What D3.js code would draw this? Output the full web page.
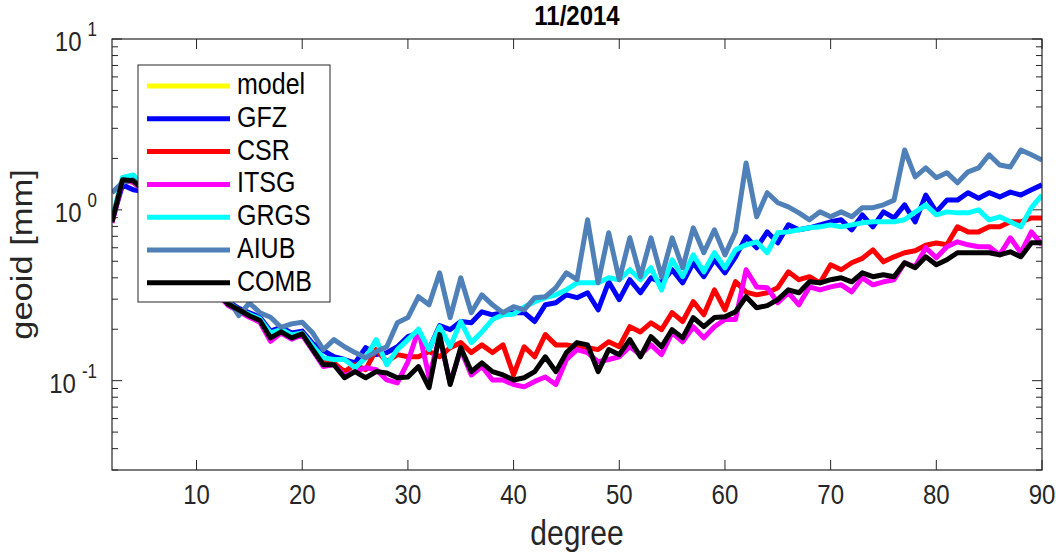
<!DOCTYPE html>
<html><head><meta charset="utf-8">
<script src="https://cdn.jsdelivr.net/npm/d3@7"></script>
<style>
body{margin:0;background:#fff}
text{font-family:"Liberation Sans",Arial,Helvetica,sans-serif;fill:#262626}
</style>
</head><body>
<svg id="c" width="1056" height="556"></svg>
<script>
// ---------- data ----------
const degrees = d3.range(2, 91); // spherical harmonic degree 2..90
const seriesNames = ["model","GFZ","CSR","ITSG","GRGS","AIUB","COMB"];
const seriesColors = ["#ffff00","#0000ff","#ff0000","#ff00ff","#00ffff","#4f80b8","#000000"];
const model = [];
const GFZ = [0.86,1.40,1.31,1.28,1.12,0.94,0.78,0.65,0.54,0.44,
  0.35,0.29,0.265,0.25,0.235,0.195,0.205,0.19,0.195,0.165,
  0.15,0.138,0.133,0.127,0.156,0.142,0.146,0.158,0.181,0.19,
  0.152,0.21,0.199,0.222,0.218,0.253,0.243,0.25,0.25,0.25,
  0.222,0.278,0.286,0.318,0.306,0.327,0.26,0.379,0.298,0.39,
  0.327,0.40,0.374,0.446,0.374,0.49,0.406,0.51,0.428,0.531,
  0.695,0.60,0.743,0.641,0.817,0.764,0.785,0.817,0.851,0.874,
  0.764,0.935,0.795,0.973,0.897,1.07,0.851,1.22,0.973,1.14,
  1.14,1.26,1.17,1.26,1.19,1.27,1.22,1.31,1.40];
const CSR = [0.86,1.50,1.45,1.30,1.10,0.92,0.76,0.63,0.52,0.42,
  0.33,0.28,0.26,0.24,0.225,0.18,0.195,0.18,0.19,0.155,
  0.129,0.127,0.113,0.124,0.116,0.152,0.129,0.142,0.138,0.138,
  0.148,0.138,0.156,0.167,0.146,0.162,0.146,0.162,0.108,0.158,
  0.138,0.186,0.162,0.162,0.158,0.156,0.152,0.169,0.158,0.207,
  0.193,0.218,0.199,0.25,0.222,0.29,0.243,0.34,0.26,0.38,
  0.33,0.318,0.327,0.35,0.434,0.39,0.406,0.374,0.477,0.446,
  0.49,0.52,0.583,0.496,0.531,0.561,0.576,0.62,0.64,0.624,
  0.795,0.743,0.743,0.795,0.795,0.851,0.851,0.897,0.897];
const ITSG = [0.84,1.48,1.46,1.28,1.08,0.90,0.75,0.62,0.51,0.41,
  0.32,0.275,0.255,0.235,0.22,0.17,0.19,0.175,0.185,0.15,
  0.121,0.124,0.107,0.113,0.119,0.116,0.101,0.097,0.129,0.199,
  0.105,0.181,0.097,0.152,0.108,0.121,0.101,0.101,0.095,0.092,
  0.099,0.105,0.095,0.133,0.152,0.146,0.129,0.133,0.138,0.158,
  0.142,0.162,0.142,0.191,0.169,0.207,0.178,0.207,0.228,0.228,
  0.446,0.354,0.35,0.286,0.327,0.278,0.354,0.34,0.354,0.364,
  0.331,0.40,0.364,0.379,0.39,0.49,0.464,0.60,0.524,0.608,
  0.65,0.624,0.608,0.608,0.545,0.686,0.561,0.743,0.624];
const GRGS = [0.88,1.55,1.60,1.35,1.12,0.93,0.77,0.64,0.53,0.43,
  0.34,0.285,0.26,0.245,0.23,0.19,0.2,0.185,0.19,0.16,
  0.136,0.133,0.133,0.119,0.136,0.174,0.124,0.152,0.174,0.20,
  0.152,0.207,0.158,0.222,0.167,0.193,0.228,0.243,0.245,0.27,
  0.29,0.306,0.318,0.34,0.374,0.374,0.374,0.40,0.39,0.446,
  0.39,0.458,0.34,0.51,0.406,0.545,0.434,0.561,0.458,0.583,
  0.624,0.65,0.561,0.734,0.743,0.764,0.785,0.795,0.817,0.795,
  0.817,0.839,0.851,0.851,0.851,0.874,0.97,1.07,0.935,0.973,
  0.96,0.96,1.0,0.874,0.91,0.851,0.795,1.03,1.22];
const AIUB = [1.26,1.45,1.50,1.32,1.12,0.94,0.78,0.65,0.54,0.44,
  0.36,0.30,0.24,0.285,0.25,0.235,0.205,0.215,0.22,0.19,
  0.152,0.174,0.158,0.146,0.136,0.148,0.158,0.218,0.234,0.31,
  0.278,0.428,0.234,0.40,0.25,0.318,0.278,0.25,0.271,0.26,
  0.306,0.31,0.35,0.428,0.39,0.874,0.374,0.734,0.39,0.686,
  0.406,0.686,0.406,0.686,0.458,0.785,0.561,0.764,0.545,0.743,
  1.88,0.91,1.26,1.10,1.04,0.96,0.874,0.973,0.91,0.973,
  0.91,1.03,1.03,1.07,1.14,2.24,1.56,1.76,1.54,1.65,
  1.44,1.67,1.76,2.10,1.83,1.78,2.24,2.10,1.96];
const COMB = [0.85,1.50,1.48,1.30,1.10,0.92,0.76,0.63,0.52,0.42,
  0.33,0.28,0.26,0.24,0.225,0.178,0.193,0.178,0.188,0.152,
  0.124,0.124,0.104,0.113,0.104,0.113,0.111,0.104,0.105,0.121,
  0.091,0.186,0.095,0.156,0.113,0.127,0.113,0.108,0.101,0.104,
  0.113,0.138,0.113,0.146,0.167,0.162,0.113,0.152,0.142,0.174,
  0.138,0.181,0.158,0.199,0.178,0.234,0.207,0.234,0.237,0.253,
  0.31,0.267,0.275,0.298,0.34,0.327,0.379,0.374,0.39,0.40,
  0.379,0.428,0.406,0.417,0.406,0.49,0.458,0.531,0.477,0.51,
  0.561,0.561,0.561,0.561,0.545,0.568,0.531,0.641,0.641];
const xTickValues = [10,20,30,40,50,60,70,80,90];
const yMajorTicks = [0.1,1,10];
const yTickExponents = ["-1","0","1"];
const yMinorTicks = [0.03,0.04,0.05,0.06,0.07,0.08,0.09,0.2,0.3,0.4,0.5,0.6,0.7,0.8,0.9,2,3,4,5,6,7,8,9];
const xDomain = [2,90];
const yDomain = [0.03,10];
const titleText = "11/2014";
const xLabelText = "degree";
const yLabelText = "geoid [mm]";

// ---------- layout ----------
const L=112, R=1042, T=39, B=470;
const SY=1.15; // glyphs in the reference are drawn a little taller than wide
const axisColor="#262626";
const svg=d3.select("#c");
const x=d3.scaleLinear().domain(xDomain).range([L,R]);
const y=d3.scaleLog().domain(yDomain).range([B,T]);

function addText(px,py,str,size,anchor,extra){
  const t=svg.append("text").attr("transform",`translate(${px},${py}) scale(1,${SY})`)
    .attr("text-anchor",anchor).attr("font-size",size);
  if(str!==null) t.text(str);
  if(extra) extra(t);
  return t;
}

// ticks (inside)
const g=svg.append("g").attr("stroke",axisColor).attr("stroke-width",1);
xTickValues.forEach(v=>{
  g.append("line").attr("x1",x(v)).attr("x2",x(v)).attr("y1",B).attr("y2",B-10);
  g.append("line").attr("x1",x(v)).attr("x2",x(v)).attr("y1",T).attr("y2",T+10);
});
yMajorTicks.forEach(v=>{
  g.append("line").attr("x1",L).attr("x2",L+10).attr("y1",y(v)).attr("y2",y(v));
  g.append("line").attr("x1",R).attr("x2",R-10).attr("y1",y(v)).attr("y2",y(v));
});
yMinorTicks.forEach(v=>{
  g.append("line").attr("x1",L).attr("x2",L+6).attr("y1",y(v)).attr("y2",y(v));
  g.append("line").attr("x1",R).attr("x2",R-6).attr("y1",y(v)).attr("y2",y(v));
});

// lines
svg.append("clipPath").attr("id","clp").append("rect").attr("x",L).attr("y",T).attr("width",R-L).attr("height",B-T);
const lineGen=d3.line().x(d=>x(d[0])).y(d=>y(d[1]));
const seriesData=[model,GFZ,CSR,ITSG,GRGS,AIUB,COMB];
const lg=svg.append("g").attr("clip-path","url(#clp)");
seriesData.forEach((arr,i)=>{
  const pts=arr.map((v,k)=>[degrees[k],v]);
  if(pts.length===0) return;
  lg.append("path").attr("d",lineGen(pts)).attr("fill","none")
    .attr("stroke",seriesColors[i]).attr("stroke-width",5)
    .attr("stroke-linejoin","round").attr("stroke-linecap","butt");
});

// box
svg.append("rect").attr("x",L).attr("y",T).attr("width",R-L).attr("height",B-T)
  .attr("fill","none").attr("stroke",axisColor).attr("stroke-width",1.2);

// tick labels
xTickValues.forEach(v=>{ addText(x(v),504,String(v),24,"middle"); });
yMajorTicks.forEach((v,i)=>{
  addText(97,y(v)+12,null,24,"end",t=>{
    t.append("tspan").text("10");
    t.append("tspan").attr("dx",6).attr("dy",-13).attr("font-size",17).text(yTickExponents[i]);
  });
});

// labels
addText((L+R)/2,25,titleText,24,"middle",t=>t.attr("font-weight","bold").style("fill","#000"));
addText((L+R)/2,545,xLabelText,30,"middle");
svg.append("text").attr("transform",`translate(32,${(T+B)/2}) rotate(-90) scale(${SY},1)`)
  .attr("text-anchor","middle").attr("font-size",30).text(yLabelText);

// legend
const lgx=138, lgy=65, lgw=192, lgh=237;
svg.append("rect").attr("x",lgx).attr("y",lgy).attr("width",lgw).attr("height",lgh)
  .attr("fill","#fff").attr("stroke",axisColor).attr("stroke-width",1);
seriesNames.forEach((n,i)=>{
  const yy=lgy+21+i*32.8;
  svg.append("line").attr("x1",147).attr("x2",230).attr("y1",yy).attr("y2",yy)
    .attr("stroke",seriesColors[i]).attr("stroke-width",5);
  addText(237,yy+8,n,25,"start",t=>t.style("fill","#000"));
});
</script>
</body></html>
